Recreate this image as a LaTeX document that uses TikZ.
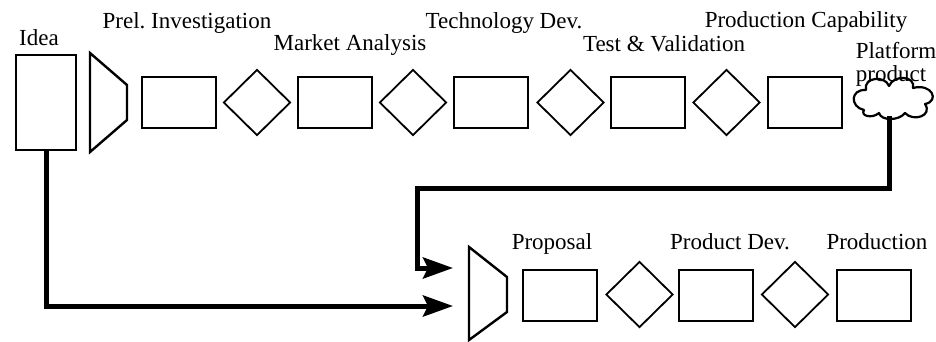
\documentclass[tikz,border=0pt]{standalone}
\usepackage{fontspec}
\setmainfont{Liberation Serif}
\usetikzlibrary{shapes.geometric,arrows.meta}
\frenchspacing
\begin{document}
\begin{tikzpicture}[x=1pt,y=-1pt,
  stagebox/.style={draw,line width=2pt,minimum width=74pt,minimum height=51pt,inner sep=0pt},
  gate/.style={draw,diamond,line width=1.8pt,minimum width=67pt,minimum height=66pt,inner sep=0pt},
  funnel/.style={draw,line width=2.4pt,line join=miter},
  flow/.style={line width=5pt,line join=miter,-{Stealth[length=30pt,width=21pt,inset=5pt]}},
  lbl/.style={anchor=base,inner sep=0pt,font=\fontsize{23}{27}\selectfont},
]
\fill[white] (0,0) rectangle (936,341);
\useasboundingbox (0,0) rectangle (936,341);

% technology track
\node[draw,line width=2pt,minimum width=60pt,minimum height=95pt,inner sep=0pt] (idea) at (46,102.5) {};
\draw[funnel] (90,53) -- (127,85) -- (127,120) -- (90,152) -- cycle;
\node[stagebox] (t1) at (179,102.5) {};
\node[gate]     (g1) at (257,102.5) {};
\node[stagebox] (t2) at (335,102.5) {};
\node[gate]     (g2) at (413,102.5) {};
\node[stagebox] (t3) at (491,102.5) {};
\node[gate]     (g3) at (570.5,102.5) {};
\node[stagebox] (t4) at (648,102.5) {};
\node[gate]     (g4) at (726.5,102.5) {};
\node[stagebox] (t5) at (805,102.5) {};

% platform product cloud
\draw[line width=2.2pt,line join=round]
  (864,110) .. controls (850,107) and (850,89) .. (866,90)
  .. controls (863,77) and (885,75) .. (889,86)
  .. controls (894,74) and (916,76) .. (913,88)
  .. controls (932,83) and (940,101) .. (925,104)
  .. controls (933,116) and (913,122) .. (905,113)
  .. controls (899,121) and (881,121) .. (879,113)
  .. controls (872,119) and (860,116) .. (864,110) -- cycle;
\coordinate (pfout) at (889,116);

% product track
\draw[funnel] (469,247) -- (507,277) -- (507,312) -- (469,340) -- cycle;
\node[stagebox] (p1) at (560,295) {};
\node[gate]     (h1) at (639.5,294.5) {};
\node[stagebox] (p2) at (716,295) {};
\node[gate]     (h2) at (795,294.5) {};
\node[stagebox] (p3) at (873.5,295) {};

% labels
\node[lbl] (lidea) at (39,45) {Idea};
\node[lbl] (lprel) at (187,28) {Prel. Investigation};
\node[lbl] (lmkt)  at (350,50) {Market Analysis};
\node[lbl] (ltech) at (504,28) {Technology Dev.};
\node[lbl] (ltest) at (664,51) {Test \& Validation};
\node[lbl] (lcap)  at (806,27) {Production Capability};
\node[lbl] (lplat) at (896,58) {Platform};
\node[lbl] (lprod) at (891,81) {product};
\node[lbl] (lprop) at (552,249) {Proposal};
\node[lbl] (lpdev) at (730,249) {Product Dev.};
\node[lbl] (lprdn) at (877,249) {Production};

% connectors
\coordinate (in1) at (453,268);
\coordinate (in2) at (453,306);
\coordinate (turn) at (417,188);
\draw[flow] (idea.south) |- (in2);
\draw[flow] (pfout) |- (turn) |- (in1);
\end{tikzpicture}
\end{document}
